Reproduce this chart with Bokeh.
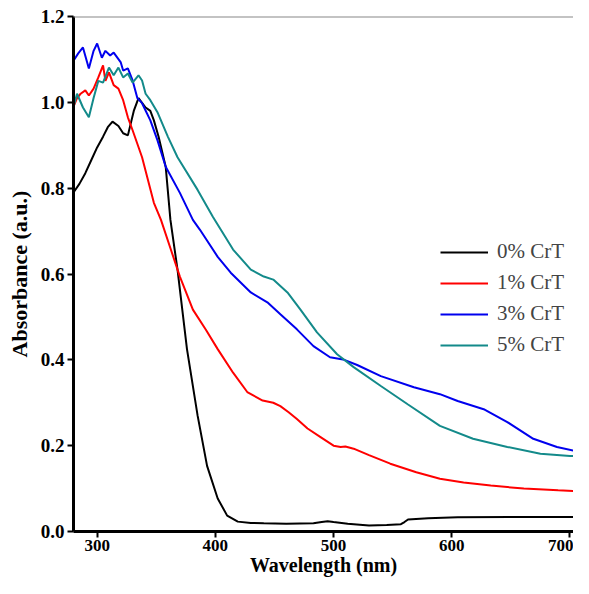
from bokeh.plotting import figure
from bokeh.models import Range1d, FixedTicker, Span, Legend, LegendItem, CustomJSTickFormatter
from bokeh.embed import file_html
from bokeh.resources import INLINE

black_x = [280, 285, 290, 295, 300, 305, 309, 313, 318, 322, 326, 331, 335, 341, 345, 348, 352, 358, 362, 368, 376, 385, 393, 402, 410, 419, 430, 441, 460, 483, 490, 495, 500, 512, 530, 545, 557, 560, 563, 580, 605, 650, 700, 717]
black_y = [0.79, 0.81, 0.835, 0.865, 0.895, 0.92, 0.942, 0.955, 0.945, 0.928, 0.923, 0.98, 1.01, 0.988, 0.98, 0.958, 0.92, 0.85, 0.726, 0.61, 0.425, 0.27, 0.153, 0.077, 0.037, 0.023, 0.02, 0.019, 0.018, 0.019, 0.022, 0.024, 0.022, 0.018, 0.014, 0.015, 0.017, 0.022, 0.028, 0.031, 0.033, 0.034, 0.034, 0.034]

red_x = [280, 283, 286, 290, 293, 297, 301, 305, 307, 310, 314, 318, 322, 326, 330, 338, 348, 354, 362, 370, 381, 392, 402, 415, 427, 440, 449, 455, 462, 469, 478, 489, 500, 506, 510, 517, 530, 548, 570, 590, 610, 633, 661, 690, 717]
red_y = [0.99, 1.01, 1.02, 1.028, 1.016, 1.032, 1.058, 1.086, 1.05, 1.07, 1.04, 1.032, 1.005, 0.965, 0.935, 0.872, 0.766, 0.726, 0.66, 0.594, 0.517, 0.47, 0.425, 0.37, 0.325, 0.305, 0.3, 0.292, 0.278, 0.262, 0.24, 0.22, 0.2, 0.197, 0.198, 0.193, 0.178, 0.158, 0.138, 0.123, 0.114, 0.107, 0.1, 0.096, 0.093]

blue_x = [280, 284, 288, 293, 297, 300, 304, 307, 311, 314, 320, 322, 326, 330, 334, 338, 345, 351, 358, 370, 381, 387, 402, 413, 430, 444, 455, 469, 483, 497, 508, 520, 540, 568, 590, 605, 627, 647, 669, 689, 717]
blue_y = [1.097, 1.114, 1.128, 1.079, 1.12, 1.137, 1.104, 1.12, 1.109, 1.116, 1.093, 1.074, 1.079, 1.051, 1.01, 0.998, 0.958, 0.912, 0.85, 0.789, 0.726, 0.703, 0.64, 0.603, 0.557, 0.534, 0.506, 0.471, 0.432, 0.406, 0.401, 0.388, 0.362, 0.336, 0.32, 0.304, 0.285, 0.255, 0.216, 0.197, 0.18]

teal_x = [280, 283, 288, 293, 297, 301, 305, 310, 314, 318, 322, 326, 330, 335, 338, 341, 345, 351, 360, 368, 385, 398, 415, 430, 441, 449, 461, 472, 486, 503, 517, 540, 563, 590, 618, 647, 675, 700, 717]
teal_y = [0.99, 1.02, 0.988, 0.965, 1.01, 1.05, 1.046, 1.081, 1.063, 1.081, 1.058, 1.067, 1.046, 1.063, 1.051, 1.02, 1.005, 0.977, 0.919, 0.872, 0.796, 0.733, 0.657, 0.61, 0.594, 0.587, 0.557, 0.517, 0.464, 0.413, 0.383, 0.339, 0.296, 0.246, 0.216, 0.197, 0.181, 0.176, 0.174]

series_labels = ["0% CrT", "1% CrT", "3% CrT", "5% CrT"]
series_colors = ["#000000", "#ff0000", "#0000ee", "#138a8a"]

x_ticks = [300, 400, 500, 600, 700]
y_ticks = [0.0, 0.2, 0.4, 0.6, 0.8, 1.0, 1.2]

FONT = "Liberation Serif"

p = figure(width=573, height=578, output_backend="svg", toolbar_location=None,
           x_range=Range1d(280, 703), y_range=Range1d(0, 1.2),
           min_border_left=73, min_border_right=0, min_border_top=16, min_border_bottom=44)
p.outline_line_color = None
p.grid.visible = False
p.background_fill_color = "white"

renderers = []
for xs, ys, c in zip([black_x, red_x, blue_x, teal_x], [black_y, red_y, blue_y, teal_y], series_colors):
    renderers.append(p.line(xs, ys, line_color=c, line_width=2))

top = Span(location=1.2, dimension="width", line_color="#888888", line_width=2)
p.add_layout(top)

for ax in (p.xaxis[0], p.yaxis[0]):
    ax.axis_line_width = 3
    ax.axis_line_color = "black"
    ax.major_tick_line_width = 2
    ax.major_tick_out = 6
    ax.major_tick_in = 0
    ax.minor_tick_line_color = None
    ax.major_label_text_font = FONT
    ax.major_label_text_font_style = "bold"
    ax.major_label_text_font_size = "17px"
    ax.major_label_text_color = "black"
    ax.axis_label_text_font = FONT
    ax.axis_label_text_font_style = "bold"
    ax.axis_label_text_font_size = "20px"
    ax.axis_label_text_color = "black"

p.yaxis.major_label_text_font_size = "19px"
p.yaxis.axis_label_text_font_size = "22px"
p.xaxis.ticker = FixedTicker(ticks=x_ticks)
p.yaxis.ticker = FixedTicker(ticks=y_ticks)
p.yaxis.formatter = CustomJSTickFormatter(code="return tick.toFixed(1);")
p.xaxis.axis_label = "Wavelength (nm)"
p.yaxis.axis_label = "Absorbance (a.u.)"
p.xaxis.major_label_standoff = 2
p.yaxis.major_label_standoff = 3
p.xaxis.axis_label_standoff = 0
p.yaxis.axis_label_standoff = 6

legend = Legend(items=[LegendItem(label=l, renderers=[r]) for l, r in zip(series_labels, renderers)],
                location=(367, 174), padding=0, margin=0, spacing=6,
                glyph_width=48, glyph_height=20, label_height=20, label_standoff=9,
                label_text_font=FONT, label_text_font_size="21px",
                border_line_color=None, background_fill_alpha=0)
p.add_layout(legend)

open("out.html", "w").write(file_html(p, INLINE))
